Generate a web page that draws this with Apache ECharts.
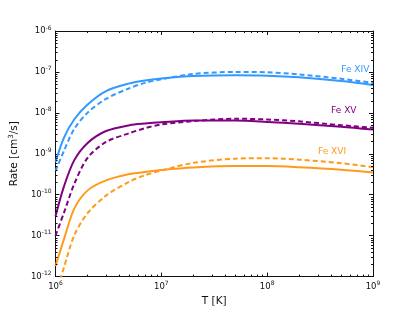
<!DOCTYPE html>
<html>
<head>
<meta charset="utf-8">
<script src="https://cdn.jsdelivr.net/npm/echarts@6/dist/echarts.min.js"></script>
<style>
html,body{margin:0;padding:0;background:#fff;}
#chart{width:415px;height:312px;}
</style>
</head>
<body>
<div id="chart"></div>
<script>
// Temperature grid [K]
const T = [1e6, 1.2e6, 1.5e6, 2e6, 3e6, 5e6, 7e6, 1e7, 2e7, 5e7, 1e8, 2e8, 5e8, 1e9];
// Rates [cm^3/s]
const feXIVSolid  = [6.3e-10, 2.45e-9, 6.9e-9, 1.58e-8, 3.4e-8, 5.25e-8, 6.2e-8, 6.9e-8, 7.9e-8, 8.3e-8, 8.1e-8, 7.4e-8, 6.0e-8, 4.8e-8];
const feXIVDashed = [3.8e-10, 1.17e-9, 4.0e-9, 1.0e-8, 2.2e-8, 4.0e-8, 5.4e-8, 6.6e-8, 8.9e-8, 1.0e-7, 9.8e-8, 8.7e-8, 6.8e-8, 5.4e-8];
const feXVSolid   = [3.0e-11, 1.58e-10, 6.9e-10, 1.82e-9, 3.6e-9, 5.0e-9, 5.5e-9, 5.9e-9, 6.5e-9, 6.5e-9, 6.0e-9, 5.4e-9, 4.6e-9, 3.9e-9];
const feXVDashed  = [1.0e-11, 3.6e-11, 1.8e-10, 7.8e-10, 1.95e-9, 3.2e-9, 4.2e-9, 5.2e-9, 6.3e-9, 7.2e-9, 6.9e-9, 6.2e-9, 5.0e-9, 4.3e-9];
const feXVISolid  = [1.8e-12, 8.1e-12, 4.5e-11, 1.26e-10, 2.24e-10, 3.2e-10, 3.6e-10, 4.0e-10, 4.6e-10, 5.0e-10, 5.0e-10, 4.7e-10, 4.1e-10, 3.5e-10];
const feXVIDashed = [3.5e-13, 1.66e-12, 1.0e-11, 3.5e-11, 9.5e-11, 2.1e-10, 3.0e-10, 3.9e-10, 6.0e-10, 7.6e-10, 7.8e-10, 7.2e-10, 5.9e-10, 4.7e-10];
// Ion labels and their anchor positions [T, rate]
const ionNames = ['Fe XIV', 'Fe XV', 'Fe XVI'];
const ionLabelT = [6.8e8, 5.3e8, 4.1e8];
const ionLabelR = [1.15e-7, 1.15e-8, 1.15e-9];
// Axis ranges
const xRange = [1e6, 1e9];
const yRange = [1e-12, 1e-6];

const colors = ['#3399ff', '#800080', '#ff9a1a'];
const FONT = 'DejaVu Sans';
const INK = '#111';

function pairs(ys){ return T.map((t,i)=>[t, ys[i]]); }

const minorX = [];
for (let k = 6; k < 9; k++) for (let m = 2; m <= 9; m++) minorX.push(m * Math.pow(10, k));
const minorY = [];
for (let k = -12; k < -6; k++) for (let m = 2; m <= 9; m++) minorY.push(m * Math.pow(10, k));

function supFmt(v){
  const e = Math.round(Math.log10(v));
  return '10{sup|' + e + '}';
}
const tickRich = {
  sup: {fontSize: 6, fontFamily: FONT, color: INK, padding: [0, 0, 6, 0]}
};

function lineSeries(data, color, dashed, labelIdx){
  const s = {
    type: 'line',
    data: pairs(data),
    showSymbol: false,
    symbol: 'none',
    smooth: 0.3,
    xAxisIndex: 0, yAxisIndex: 0,
    lineStyle: {color: color, width: 2, type: dashed ? [5, 3] : 'solid'},
    z: dashed ? 3 : 4,
    silent: true,
    animation: false
  };
  if (labelIdx !== undefined) {
    s.markPoint = {
      symbol: 'circle', symbolSize: 0, silent: true, animation: false,
      label: {show: true, position: 'inside', formatter: ionNames[labelIdx], color: color, fontSize: 9, fontFamily: FONT},
      data: [{coord: [ionLabelT[labelIdx], ionLabelR[labelIdx]]}]
    };
  }
  return s;
}

const chart = echarts.init(document.getElementById('chart'), null, {renderer: 'canvas'});
const axisLine = {show: true, lineStyle: {color: INK, width: 1}};
const option = {
  backgroundColor: '#fff',
  animation: false,
  grid: {left: 52, right: 42, top: 31, bottom: 32},
  xAxis: [
    {type: 'log', logBase: 10, min: xRange[0], max: xRange[1], position: 'bottom',
     axisLine: axisLine,
     axisTick: {show: true, inside: true, length: 4, lineStyle: {color: INK}},
     axisLabel: {formatter: supFmt, rich: tickRich, fontSize: 8.5, fontFamily: FONT, color: INK, margin: 4},
     splitLine: {show: false},
     name: 'T [K]', nameLocation: 'middle', nameGap: 14,
     nameTextStyle: {fontSize: 10.5, fontFamily: FONT, color: INK}},
    {type: 'log', logBase: 10, min: xRange[0], max: xRange[1], position: 'top',
     axisLine: axisLine,
     axisTick: {show: true, inside: true, length: 4, lineStyle: {color: INK}},
     axisLabel: {show: false}, splitLine: {show: false}}
  ],
  yAxis: [
    {type: 'log', logBase: 10, min: yRange[0], max: yRange[1], position: 'left',
     axisLine: axisLine,
     axisTick: {show: true, inside: true, length: 4, lineStyle: {color: INK}},
     axisLabel: {formatter: supFmt, rich: tickRich, fontSize: 8.5, fontFamily: FONT, color: INK, margin: 4},
     splitLine: {show: false},
     name: 'Rate [cm{sup|3}/s]', nameLocation: 'middle', nameGap: 28, nameRotate: 90,
     nameTextStyle: {fontSize: 10.5, fontFamily: FONT, color: INK,
       rich: {sup: {fontSize: 7, fontFamily: FONT, color: INK, padding: [0, 0, 6, 0]}}}},
    {type: 'log', logBase: 10, min: yRange[0], max: yRange[1], position: 'right',
     axisLine: axisLine,
     axisTick: {show: true, inside: true, length: 4, lineStyle: {color: INK}},
     axisLabel: {show: false}, splitLine: {show: false}}
  ],
  series: [
    lineSeries(feXIVDashed, colors[0], true),
    lineSeries(feXIVSolid, colors[0], false, 0),
    lineSeries(feXVDashed, colors[1], true),
    lineSeries(feXVSolid, colors[1], false, 1),
    lineSeries(feXVIDashed, colors[2], true),
    lineSeries(feXVISolid, colors[2], false, 2),
    {
      type: 'custom', coordinateSystem: 'cartesian2d', xAxisIndex: 0, yAxisIndex: 0,
      silent: true, clip: false, animation: false, z: 10,
      data: [[xRange[0], yRange[0]]],
      renderItem: function(params, api){
        const cs = params.coordSys;
        const children = [];
        const st = {stroke: INK, lineWidth: 1};
        const bottom = cs.y + cs.height, top = cs.y, left = cs.x, right = cs.x + cs.width;
        minorX.forEach(v => {
          const x = Math.round(api.coord([v, yRange[0]])[0]) + 0.5;
          children.push({type: 'line', shape: {x1: x, y1: bottom, x2: x, y2: bottom - 2}, style: st});
          children.push({type: 'line', shape: {x1: x, y1: top, x2: x, y2: top + 2}, style: st});
        });
        minorY.forEach(v => {
          const y = Math.round(api.coord([xRange[0], v])[1]) + 0.5;
          children.push({type: 'line', shape: {x1: left, y1: y, x2: left + 2, y2: y}, style: st});
          children.push({type: 'line', shape: {x1: right, y1: y, x2: right - 2, y2: y}, style: st});
        });
        return {type: 'group', children: children};
      }
    }
  ]
};
chart.setOption(option);
</script>
</body>
</html>
